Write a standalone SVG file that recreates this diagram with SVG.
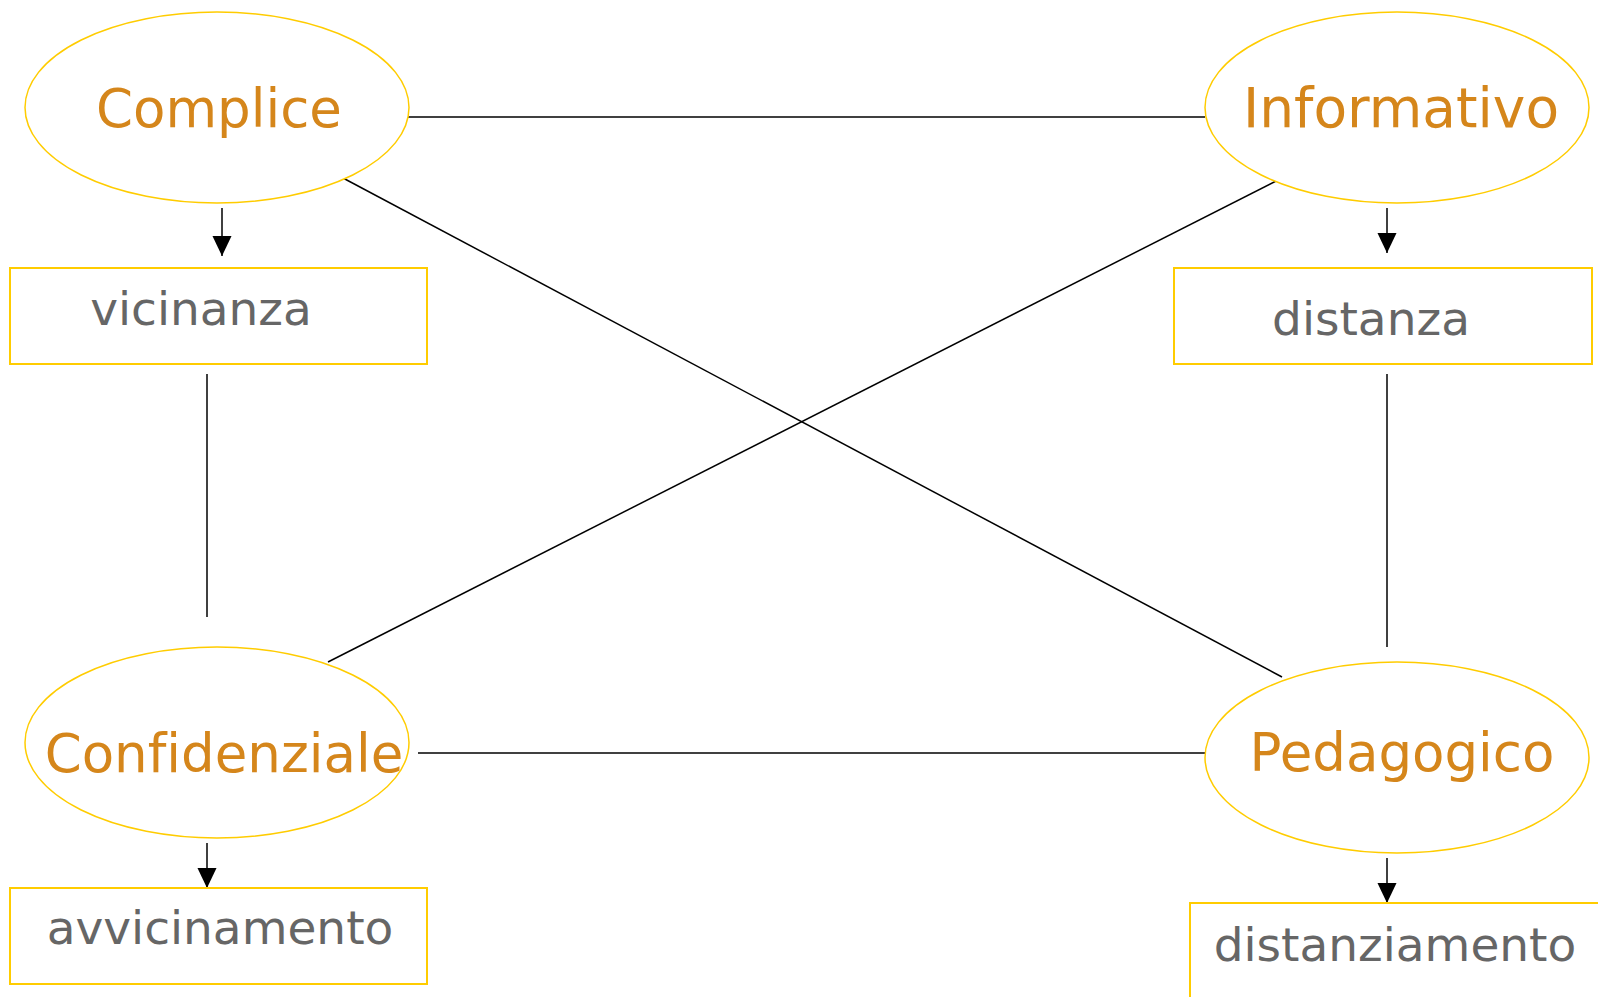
<svg xmlns="http://www.w3.org/2000/svg" width="1598" height="997" viewBox="0 0 1598 997">
<style>
.node ellipse{fill:#FFFFFF;stroke:#FFCC00;stroke-width:1.5}
.box rect{fill:#FFFFFF;stroke:#FFCC00;stroke-width:2}
.t1{font-family:"DejaVu Sans",Verdana,sans-serif;font-size:53px;fill:#D5861B;text-anchor:middle;font-variant-ligatures:none}
.t2{font-family:"DejaVu Sans",Verdana,sans-serif;font-size:47px;fill:#666666;text-anchor:middle;font-variant-ligatures:none}
.conn line{stroke:#000000;stroke-width:1.5;fill:none}
</style>
<defs>
<marker id="arr" markerUnits="userSpaceOnUse" markerWidth="20" markerHeight="21" refX="21" refY="10" orient="auto" viewBox="0 0 21 20">
<path d="M0,0 L21,10 L0,20 z" fill="#000000"/>
</marker>
</defs>
<rect x="0" y="0" width="1598" height="997" fill="#FFFFFF"/>
<g id="connectors" class="conn">
<line x1="403" y1="117" x2="1205" y2="117"/>
<line x1="343" y1="178" x2="1282" y2="677"/>
<line x1="1282" y1="178" x2="328" y2="662"/>
<line x1="418" y1="753" x2="1205" y2="753"/>
<line x1="207" y1="374" x2="207" y2="617"/>
<line x1="1387" y1="374" x2="1387" y2="647"/>
<line x1="222" y1="208" x2="222" y2="256" marker-end="url(#arr)"/>
<line x1="1387" y1="208" x2="1387" y2="253" marker-end="url(#arr)"/>
<line x1="207" y1="843" x2="207" y2="888" marker-end="url(#arr)"/>
<line x1="1387" y1="858" x2="1387" y2="903" marker-end="url(#arr)"/>
</g>
<g id="complice" class="node"><ellipse cx="217" cy="107.5" rx="192" ry="95.5"/><text class="t1" x="219" y="127">Complice</text></g>
<g id="informativo" class="node"><ellipse cx="1397" cy="107.5" rx="192" ry="95.5"/><text class="t1" x="1401" y="127" style="font-size:55px">Informativo</text></g>
<g id="confidenziale" class="node"><ellipse cx="217" cy="742.5" rx="192" ry="95.5"/><text class="t1" x="224" y="772">Confidenziale</text></g>
<g id="pedagogico" class="node"><ellipse cx="1397" cy="757.5" rx="192" ry="95.5"/><text class="t1" x="1402" y="771">Pedagogico</text></g>
<g id="vicinanza" class="box"><rect x="10" y="268" width="417" height="96"/><text class="t2" x="201" y="325">vicinanza</text></g>
<g id="distanza" class="box"><rect x="1174" y="268" width="418" height="96"/><text class="t2" x="1371" y="335">distanza</text></g>
<g id="avvicinamento" class="box"><rect x="10" y="888" width="417" height="96"/><text class="t2" x="220" y="944">avvicinamento</text></g>
<g id="distanziamento" class="box"><rect x="1190" y="903" width="420" height="100"/><text class="t2" x="1395" y="961">distanziamento</text></g>
</svg>
